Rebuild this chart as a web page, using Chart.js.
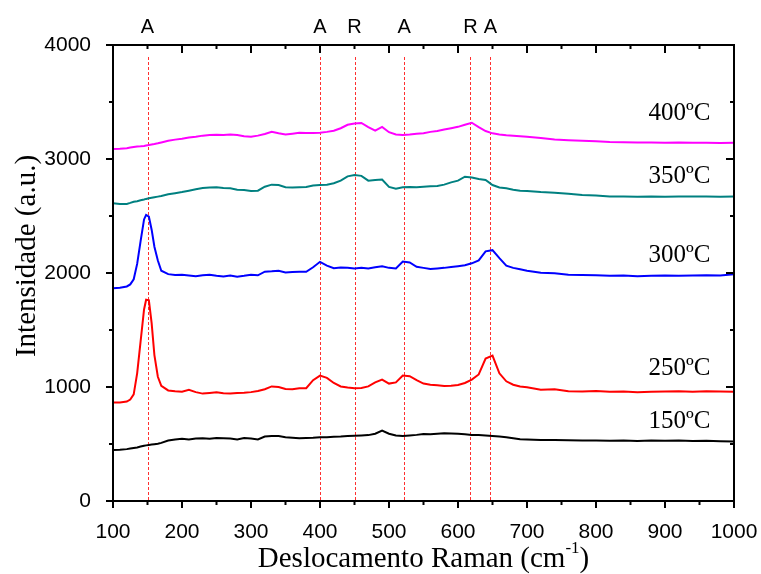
<!DOCTYPE html>
<html>
<head>
<meta charset="utf-8">
<script src="https://cdn.jsdelivr.net/npm/chart.js@4.4.1/dist/chart.umd.min.js"></script>
<style>
  body { margin: 0; background: #fff; }
</style>
</head>
<body>
<canvas id="ramanChart" width="761" height="574"></canvas>
<script>
// Raman shift (cm-1), shared by every spectrum
const shift = [100, 110, 120, 125, 130, 135, 140, 145, 148, 152, 156, 160, 165, 170, 180, 190,
  200, 210, 220, 230, 240, 250, 260, 270, 280, 290, 300, 310, 320, 330, 340, 350, 360, 370, 380, 390,
  400, 410, 420, 430, 440, 450, 460, 470, 480, 490, 500, 510, 520, 530, 540, 550, 560, 570, 580, 590,
  600, 610, 620, 630, 640, 650, 660, 670, 680, 690, 700, 720, 740, 760, 780, 800, 820, 840, 860, 880,
  900, 920, 940, 960, 980, 1000];

const int150 = [447, 450, 455, 460, 465, 470, 478, 485, 488, 492, 495, 498, 502, 510, 530, 540,
  545, 540, 548, 550, 546, 552, 550, 548, 540, 552, 548, 540, 565, 570, 570, 560, 555, 550, 552, 555,
  560, 560, 563, 565, 570, 572, 575, 578, 590, 617, 590, 575, 570, 575, 580, 588, 585, 590, 595, 592,
  590, 585, 580, 578, 575, 570, 565, 560, 550, 541, 540, 535, 535, 533, 530, 530, 528, 530, 527, 530,
  528, 530, 526, 528, 525, 522];

const int250 = [863, 865, 872, 890, 935, 1120, 1400, 1680, 1765, 1760, 1560, 1280, 1090, 1010, 970, 962,
  958, 975, 955, 942, 948, 953, 945, 944, 948, 950, 955, 965, 980, 1005, 1000, 982, 980, 988, 990, 1060,
  1100, 1080, 1035, 1005, 995, 990, 992, 1005, 1040, 1065, 1030, 1040, 1100, 1095, 1060, 1030, 1020, 1015, 1008, 1012,
  1018, 1035, 1065, 1110, 1250, 1275, 1120, 1050, 1020, 1005, 998, 975, 980, 962, 960, 965, 958, 960, 955, 958,
  960, 962, 958, 962, 960, 959];

const int300 = [1866, 1870, 1882, 1900, 1945, 2080, 2280, 2470, 2510, 2495, 2380, 2230, 2110, 2020, 1990, 1982,
  1985, 1978, 1972, 1980, 1985, 1975, 1970, 1978, 1968, 1975, 1985, 1980, 2012, 2015, 2020, 2005, 2008, 2012, 2010, 2050,
  2098, 2065, 2042, 2048, 2045, 2040, 2045, 2040, 2050, 2060, 2045, 2040, 2100, 2092, 2055, 2045, 2035, 2040, 2045, 2052,
  2060, 2068, 2085, 2110, 2190, 2200, 2130, 2065, 2045, 2032, 2020, 2003, 1997, 1985, 1982, 1980, 1975, 1978, 1972, 1975,
  1978, 1975, 1978, 1980, 1978, 1988];

const int350 = [2611, 2605, 2606, 2615, 2625, 2630, 2638, 2645, 2650, 2655, 2660, 2665, 2670, 2675, 2690, 2700,
  2710, 2722, 2735, 2745, 2750, 2752, 2745, 2743, 2730, 2728, 2720, 2722, 2757, 2775, 2772, 2752, 2750, 2752, 2755, 2768,
  2772, 2775, 2787, 2810, 2848, 2860, 2852, 2810, 2815, 2820, 2755, 2740, 2752, 2755, 2752, 2757, 2760, 2763, 2775, 2795,
  2810, 2845, 2838, 2825, 2816, 2772, 2750, 2743, 2730, 2722, 2719, 2710, 2705, 2695, 2684, 2680, 2670, 2672, 2668, 2672,
  2668, 2670, 2672, 2670, 2668, 2670];

const int400 = [3088, 3090, 3095, 3100, 3105, 3110, 3112, 3115, 3118, 3122, 3128, 3132, 3138, 3145, 3160, 3170,
  3178, 3188, 3195, 3205, 3210, 3212, 3210, 3215, 3210, 3200, 3195, 3205, 3220, 3238, 3225, 3215, 3222, 3230, 3228, 3228,
  3230, 3238, 3248, 3270, 3300, 3312, 3316, 3280, 3248, 3282, 3235, 3215, 3210, 3215, 3222, 3225, 3238, 3245, 3258, 3270,
  3282, 3300, 3318, 3280, 3245, 3225, 3215, 3208, 3205, 3200, 3195, 3185, 3172, 3165, 3160, 3155, 3150, 3148, 3145, 3145,
  3142, 3145, 3143, 3142, 3140, 3143];

const seriesNames = ['150ºC', '250ºC', '300ºC', '350ºC', '400ºC'];
const seriesColors = ['#000000', '#ff0000', '#0000ff', '#008080', '#ff00ff'];
const seriesValues = [int150, int250, int300, int350, int400];

// anatase (A) / rutile (R) bands
const peakShifts = [150, 400, 450, 522, 618, 647];
const peakLabels = ['A', 'A', 'R', 'A', 'R', 'A'];

const xTickValues = [100, 200, 300, 400, 500, 600, 700, 800, 900, 1000];
const yTickValues = [0, 1000, 2000, 3000, 4000];

// where the temperature labels sit (right edge), in data units
const labelAnchors = [
  { x: 966, y: 696 },
  { x: 966, y: 1167 },
  { x: 966, y: 2158 },
  { x: 966, y: 2845 },
  { x: 966, y: 3404 }
];

const frameAndMarks = {
  id: 'frameAndMarks',
  beforeDatasetsDraw(chart) {
    const { ctx, chartArea: a, scales: { x } } = chart;
    ctx.save();
    ctx.strokeStyle = '#ff3030';
    ctx.lineWidth = 1;
    ctx.setLineDash([3, 2]);
    peakShifts.forEach(s => {
      const px = Math.round(x.getPixelForValue(s)) + 0.5;
      ctx.beginPath();
      ctx.moveTo(px, 57);
      ctx.lineTo(px, a.bottom);
      ctx.stroke();
    });
    ctx.restore();
  },
  afterDraw(chart) {
    const { ctx, chartArea: a, scales: { x, y } } = chart;
    ctx.save();
    ctx.strokeStyle = '#000';
    ctx.lineWidth = 2;
    ctx.strokeRect(a.left, a.top, a.right - a.left, a.bottom - a.top);

    ctx.beginPath();
    for (let v = 100; v <= 1000; v += 50) {
      const px = x.getPixelForValue(v);
      const major = v % 100 === 0;
      ctx.moveTo(px, a.bottom); ctx.lineTo(px, a.bottom + (major ? 7 : 4));
      ctx.moveTo(px, a.top); ctx.lineTo(px, a.top + (major ? 8 : 4));
    }
    for (let v = 0; v <= 4000; v += 500) {
      const py = y.getPixelForValue(v);
      const major = v % 1000 === 0;
      ctx.moveTo(a.left, py); ctx.lineTo(a.left - (major ? 7 : 4), py);
      ctx.moveTo(a.right, py); ctx.lineTo(a.right - (major ? 8 : 4), py);
    }
    ctx.stroke();

    // band letters
    ctx.fillStyle = '#000';
    ctx.font = '20px "Liberation Sans", Arial, sans-serif';
    ctx.textAlign = 'center';
    ctx.textBaseline = 'middle';
    peakShifts.forEach((s, i) => {
      ctx.fillText(peakLabels[i], x.getPixelForValue(s), 27);
    });

    // temperature labels
    ctx.font = '25px "Liberation Serif", "Times New Roman", serif';
    ctx.textAlign = 'right';
    labelAnchors.forEach((p, i) => {
      ctx.fillText(seriesNames[i], x.getPixelForValue(p.x), y.getPixelForValue(p.y));
    });

    // axis titles
    ctx.textAlign = 'left';
    ctx.textBaseline = 'alphabetic';
    const big = '29px "Liberation Serif", "Times New Roman", serif';
    const small = '17px "Liberation Serif", "Times New Roman", serif';
    const main = 'Deslocamento Raman (cm';
    ctx.font = big;
    const w1 = ctx.measureText(main).width;
    const w3 = ctx.measureText(')').width;
    ctx.font = small;
    const w2 = ctx.measureText('-1').width;
    const tx = (a.left + a.right) / 2 - (w1 + w2 + w3) / 2;
    const base = 567;
    ctx.font = big;
    ctx.fillText(main, tx, base);
    ctx.fillText(')', tx + w1 + w2, base);
    ctx.font = small;
    ctx.fillText('-1', tx + w1, base - 14);

    ctx.font = big;
    ctx.translate(27, 256);
    ctx.rotate(-Math.PI / 2);
    ctx.textAlign = 'center';
    ctx.textBaseline = 'middle';
    ctx.fillText('Intensidade (a.u.)', 0, 0);
    ctx.restore();
  }
};

const ctx = document.getElementById('ramanChart');

new Chart(ctx, {
  type: 'line',
  data: {
    datasets: seriesValues.map((vals, i) => ({
      label: seriesNames[i],
      data: vals.map((v, k) => ({ x: shift[k], y: v })),
      borderColor: seriesColors[i],
      borderWidth: 2,
      pointRadius: 0,
      tension: 0,
      fill: false
    }))
  },
  options: {
    responsive: false,
    animation: false,
    layout: {
      padding: { top: 45, right: 27, left: 0, bottom: 0 }
    },
    plugins: {
      legend: { display: false },
      tooltip: { enabled: false }
    },
    scales: {
      x: {
        type: 'linear',
        min: 100,
        max: 1000,
        afterBuildTicks: s => { s.ticks = xTickValues.map(v => ({ value: v })); },
        afterFit: s => { s.height = 73; s.paddingLeft = 0; s.paddingRight = 0; },
        grid: { display: false },
        border: { display: false },
        ticks: {
          color: '#000',
          padding: 11,
          maxRotation: 0,
          callback: v => String(v),
          font: { family: '"Liberation Sans", Arial, sans-serif', size: 21 }
        }
      },
      y: {
        min: 0,
        max: 4000,
        afterBuildTicks: s => { s.ticks = yTickValues.map(v => ({ value: v })); },
        afterFit: s => { s.width = 113; s.paddingTop = 0; s.paddingBottom = 0; },
        grid: { display: false },
        border: { display: false },
        ticks: {
          color: '#000',
          padding: 14,
          callback: v => String(v),
          font: { family: '"Liberation Sans", Arial, sans-serif', size: 21 }
        }
      }
    }
  },
  plugins: [frameAndMarks]
});
</script>
</body>
</html>
